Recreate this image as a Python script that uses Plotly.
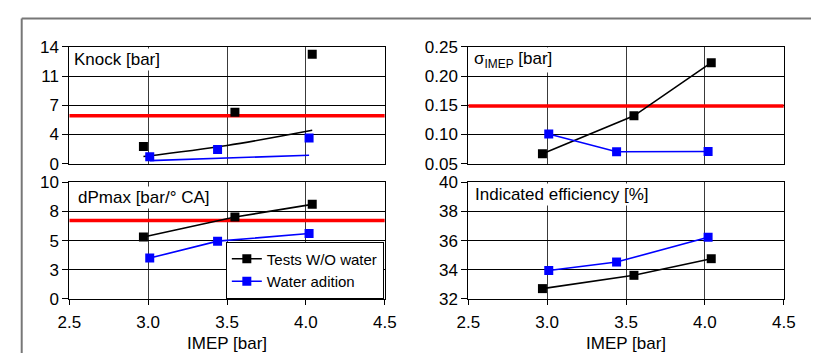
import plotly.graph_objects as go

# ---------------- data ----------------
x_range = [2.5, 4.5]

# Knock [bar]
knock_x_wo = [2.97, 3.55, 4.04]
knock_y_wo = [2.08, 6.17, 13.13]
knock_trend_x_wo = [2.97, 3.50, 4.04]
knock_trend_y_wo = [0.87, 2.19, 4.01]
knock_x_w = [3.01, 3.44, 4.02]
knock_y_w = [0.83, 1.70, 3.10]
knock_trend_x_w = [3.01, 4.02]
knock_trend_y_w = [0.38, 1.02]
knock_limit = 5.75
knock_tickvals = [0, 3.5, 7, 10.5, 14]
knock_ticktext = ["0", "4", "7", "11", "14"]

# dPmax [bar/° CA]
dp_x_wo = [2.97, 3.55, 4.04]
dp_y_wo = [5.30, 7.01, 8.10]
dp_x_w = [3.01, 3.44, 4.02]
dp_y_w = [3.50, 4.95, 5.60]
dp_limit = 6.71
dp_tickvals = [0, 2.5, 5, 7.5, 10]
dp_ticktext = ["0", "3", "5", "8", "10"]

# sigma IMEP [bar]
sig_x_wo = [2.97, 3.55, 4.04]
sig_y_wo = [0.067, 0.132, 0.223]
sig_x_w = [3.01, 3.44, 4.02]
sig_y_w = [0.101, 0.0705, 0.071]
sig_limit = 0.149

# Indicated efficiency [%]
eff_x_wo = [2.97, 3.55, 4.04]
eff_y_wo = [32.71, 33.62, 34.76]
eff_x_w = [3.01, 3.44, 4.02]
eff_y_w = [33.95, 34.53, 36.22]

BLACK = "#000000"
BLUE = "#0000FF"
RED = "#FF0000"
FONT = "Liberation Sans, Arial, sans-serif"
FS = 17
FS_LEG = 15

W, H = 823, 363

fig = go.Figure()

def px_x(p):
    return p / W

def px_y(p):
    return 1 - p / H

# axis domains (pixels)
xdom_l = [px_x(59), px_x(384)]
xdom_r = [px_x(470), px_x(795)]
ydom_t = [px_y(163.3), px_y(40)]
ydom_b = [px_y(306), px_y(182.7)]

def add(xs, ys, xa, ya, color, mode, name=None, legend=False, width=1.6, size=9, shape="linear"):
    fig.add_trace(go.Scatter(
        x=xs, y=ys, xaxis=xa, yaxis=ya, mode=mode, name=name, showlegend=legend,
        line=dict(color=color, width=width, shape=shape),
        marker=dict(symbol="square", size=size, color=color),
        hoverinfo="skip"))

# Knock panel (x, y)
add(x_range, [knock_limit, knock_limit], "x", "y", RED, "lines", width=3.5)
add(knock_trend_x_wo, knock_trend_y_wo, "x", "y", BLACK, "lines", shape="spline")
add(knock_trend_x_w, knock_trend_y_w, "x", "y", BLUE, "lines")
add(knock_x_wo, knock_y_wo, "x", "y", BLACK, "markers")
add(knock_x_w, knock_y_w, "x", "y", BLUE, "markers")

# dPmax panel (x3, y3)
add(x_range, [dp_limit, dp_limit], "x3", "y3", RED, "lines", width=3.5)
add(dp_x_wo, dp_y_wo, "x3", "y3", BLACK, "lines+markers", name="Tests W/O water", legend=True)
add(dp_x_w, dp_y_w, "x3", "y3", BLUE, "lines+markers", name="Water adition", legend=True)

# sigma panel (x2, y2)
add(x_range, [sig_limit, sig_limit], "x2", "y2", RED, "lines", width=3.5)
add(sig_x_wo, sig_y_wo, "x2", "y2", BLACK, "lines+markers")
add(sig_x_w, sig_y_w, "x2", "y2", BLUE, "lines+markers")

# efficiency panel (x4, y4)
add(eff_x_wo, eff_y_wo, "x4", "y4", BLACK, "lines+markers")
add(eff_x_w, eff_y_w, "x4", "y4", BLUE, "lines+markers")

xcommon = dict(range=x_range, dtick=0.5, tick0=2.5, showgrid=True, gridcolor="#3a3a3a", gridwidth=1,
               showline=True, linecolor="black", linewidth=1, mirror=True, zeroline=False,
               ticks="outside", ticklen=5, tickcolor="black", tickformat=".1f",
               ticklabelstandoff=3,
               tickfont=dict(family=FONT, size=FS, color="black"))
ycommon = dict(showgrid=True, gridcolor="black", gridwidth=1,
               showline=True, linecolor="black", linewidth=1, mirror=True, zeroline=False,
               ticks="outside", ticklen=6, tickcolor="black",
               tickfont=dict(family=FONT, size=FS, color="black"))

title_x = dict(text="IMEP [bar]", font=dict(family=FONT, size=FS, color="black"), standoff=5)

fig.update_layout(
    width=W, height=H, margin=dict(l=0, r=0, t=0, b=0),
    paper_bgcolor="white", plot_bgcolor="white",
    font=dict(family=FONT, size=FS, color="black"),
    xaxis=dict(xcommon, domain=xdom_l, anchor="y", showticklabels=False, ticks=""),
    yaxis=dict(ycommon, domain=ydom_t, anchor="x", range=[0, 14],
               tickmode="array", tickvals=knock_tickvals, ticktext=knock_ticktext),
    xaxis2=dict(xcommon, domain=xdom_r, anchor="y2", showticklabels=False, ticks=""),
    yaxis2=dict(ycommon, domain=ydom_t, anchor="x2", range=[0.05, 0.25], dtick=0.05,
                tick0=0.05, tickformat=".2f"),
    xaxis3=dict(xcommon, domain=xdom_l, anchor="y3", title=title_x),
    yaxis3=dict(ycommon, domain=ydom_b, anchor="x3", range=[0, 10],
                tickmode="array", tickvals=dp_tickvals, ticktext=dp_ticktext),
    xaxis4=dict(xcommon, domain=xdom_r, anchor="y4", title=title_x),
    yaxis4=dict(ycommon, domain=ydom_b, anchor="x4", range=[32, 40], dtick=2, tick0=32),
    legend=dict(x=px_x(383), y=px_y(305.5), xanchor="right", yanchor="bottom",
                bgcolor="white", bordercolor="black", borderwidth=1,
                font=dict(family=FONT, size=FS_LEG, color="black"),
                tracegroupgap=0, itemwidth=30),
    showlegend=True,
)

def label(text, xp, yp):
    fig.add_annotation(text=text, x=px_x(xp), y=px_y(yp), xref="paper", yref="paper",
                       xanchor="left", yanchor="middle", showarrow=False,
                       bgcolor="white", borderpad=1,
                       font=dict(family=FONT, size=FS, color="black"))

label("Knock [bar]", 62, 53)
label("dPmax [bar/° CA]", 66, 199)
label("σ<sub>IMEP</sub> [bar]", 474, 54)
label("Indicated efficiency [%]", 475, 196)

# outer frame (top and left gray lines)
fig.add_shape(type="line", xref="paper", yref="paper", x0=px_x(10), x1=1, y0=px_y(10), y1=px_y(10),
              line=dict(color="#777777", width=2))
fig.add_shape(type="line", xref="paper", yref="paper", x0=px_x(10), x1=px_x(10), y0=0, y1=px_y(10),
              line=dict(color="#777777", width=2))

fig.write_html("out.html")
